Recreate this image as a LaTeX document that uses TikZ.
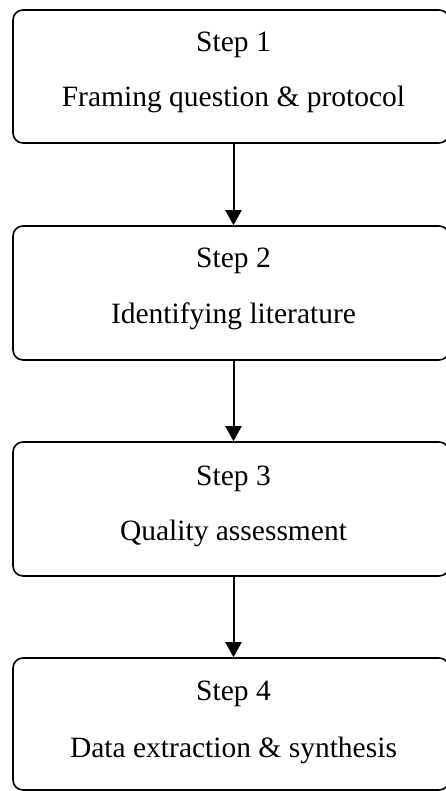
\documentclass[tikz,border=0pt]{standalone}
\usepackage{fontspec}
\setmainfont{Liberation Serif}
\usetikzlibrary{arrows.meta}
\begin{document}
\begin{tikzpicture}[x=1pt,y=-1pt,
  stepbox/.style={draw=black, line width=1.6pt, rounded corners=10pt, minimum width=436pt, inner sep=0pt},
  txt/.style={anchor=base, inner sep=0pt, font=\fontsize{29.5}{29.5}\selectfont},
  flow/.style={draw=black, line width=2pt, -{Triangle[width=16pt,length=15pt]}}]
\useasboundingbox (0,0) rectangle (445,791);
\node[stepbox, minimum height=133pt] (b1) at (231,76.5) {};
\node[stepbox, minimum height=134pt] (b2) at (231,293) {};
\node[stepbox, minimum height=134pt] (b3) at (231,509) {};
\node[stepbox, minimum height=132pt] (b4) at (231,724) {};
\node[txt] (s1) at (233.5,52) {Step 1};
\node[txt] (t1) at (233.5,107) {Framing question \& protocol};
\node[txt] (s2) at (233.5,268) {Step 2};
\node[txt] (t2) at (233.5,323) {Identifying literature};
\node[txt] (s3) at (233.5,485) {Step 3};
\node[txt] (t3) at (233.5,540) {Quality assessment};
\node[txt] (s4) at (233.5,700) {Step 4};
\node[txt] (t4) at (233.5,757) {Data extraction \& synthesis};
\coordinate (a1) at (233.5,143);
\coordinate (a2) at (233.5,360);
\coordinate (a3) at (233.5,576);
\draw[flow] (a1) -- (a1 |- b2.north);
\draw[flow] (a2) -- (a2 |- b3.north);
\draw[flow] (a3) -- (a3 |- b4.north);
\end{tikzpicture}
\end{document}
